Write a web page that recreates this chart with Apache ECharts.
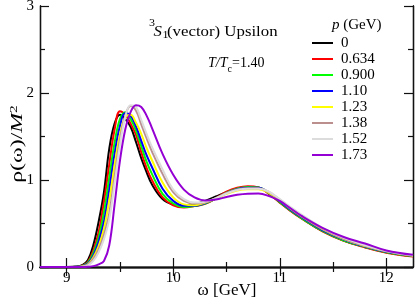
<!DOCTYPE html>
<html><head><meta charset="utf-8">
<script src="https://cdn.jsdelivr.net/npm/echarts@6/dist/echarts.min.js"></script>
<style>html,body{margin:0;padding:0;background:#fff}#c{width:415px;height:303px}</style>
</head><body><div id="c"></div>
<script>
// omega grid [GeV]
const omega = [8.75, 9.0, 9.1, 9.15, 9.2, 9.25, 9.3, 9.35, 9.4, 9.45, 9.5, 9.55, 9.6, 9.65, 9.7, 9.75, 9.8, 9.9, 10.0, 10.1, 10.2, 10.3, 10.4, 10.5, 10.6, 10.7, 10.8, 10.9, 11.0, 11.1, 11.2, 11.4, 11.6, 11.8, 12.0, 12.25];
const momenta = ['0', '0.634', '0.900', '1.10', '1.23', '1.38', '1.52', '1.73'];
const rho_p0    = [0, 0, 0.005, 0.025, 0.08, 0.25, 0.52, 0.86, 1.36, 1.65, 1.75, 1.70, 1.61, 1.44, 1.25, 1.09, 0.95, 0.78, 0.715, 0.70, 0.72, 0.76, 0.81, 0.86, 0.90, 0.92, 0.915, 0.84, 0.745, 0.65, 0.565, 0.415, 0.305, 0.23, 0.17, 0.125];
const rho_p0634 = [0, 0, 0.003, 0.018, 0.06, 0.19, 0.40, 0.75, 1.18, 1.58, 1.79, 1.75, 1.65, 1.52, 1.32, 1.14, 1.00, 0.80, 0.71, 0.685, 0.70, 0.725, 0.79, 0.865, 0.91, 0.928, 0.915, 0.84, 0.74, 0.645, 0.56, 0.41, 0.30, 0.225, 0.165, 0.12];
const rho_p0900 = [0, 0, 0.002, 0.014, 0.05, 0.16, 0.34, 0.63, 1.03, 1.43, 1.70, 1.78, 1.70, 1.57, 1.39, 1.21, 1.07, 0.84, 0.73, 0.69, 0.70, 0.73, 0.785, 0.855, 0.90, 0.92, 0.915, 0.845, 0.745, 0.65, 0.565, 0.415, 0.305, 0.23, 0.17, 0.125];
const rho_p110  = [0, 0, 0.002, 0.011, 0.04, 0.13, 0.29, 0.52, 0.89, 1.30, 1.62, 1.77, 1.74, 1.62, 1.45, 1.285, 1.15, 0.90, 0.76, 0.705, 0.705, 0.735, 0.785, 0.85, 0.895, 0.91, 0.91, 0.85, 0.755, 0.66, 0.575, 0.425, 0.315, 0.235, 0.175, 0.128];
const rho_p123  = [0, 0, 0.001, 0.008, 0.032, 0.11, 0.24, 0.44, 0.77, 1.17, 1.52, 1.72, 1.75, 1.66, 1.53, 1.37, 1.23, 0.97, 0.80, 0.72, 0.71, 0.74, 0.785, 0.84, 0.88, 0.895, 0.895, 0.85, 0.765, 0.67, 0.585, 0.435, 0.32, 0.24, 0.18, 0.13];
const rho_p138  = [0, 0, 0, 0.006, 0.025, 0.09, 0.20, 0.37, 0.62, 1.04, 1.46, 1.74, 1.85, 1.80, 1.64, 1.48, 1.33, 1.07, 0.86, 0.76, 0.73, 0.745, 0.79, 0.85, 0.89, 0.905, 0.905, 0.86, 0.775, 0.68, 0.595, 0.44, 0.325, 0.245, 0.182, 0.132];
const rho_p152  = [0, 0, 0, 0.004, 0.02, 0.07, 0.17, 0.32, 0.55, 0.96, 1.40, 1.72, 1.86, 1.84, 1.69, 1.53, 1.38, 1.12, 0.89, 0.78, 0.74, 0.75, 0.79, 0.845, 0.885, 0.90, 0.90, 0.865, 0.78, 0.69, 0.605, 0.45, 0.335, 0.25, 0.185, 0.135];
const rho_p173  = [0, 0, 0, 0, 0.003, 0.01, 0.03, 0.07, 0.25, 0.72, 1.22, 1.58, 1.78, 1.86, 1.84, 1.74, 1.60, 1.30, 1.06, 0.89, 0.80, 0.765, 0.775, 0.805, 0.83, 0.843, 0.845, 0.815, 0.76, 0.675, 0.59, 0.45, 0.345, 0.27, 0.19, 0.14];
const xMajorTicks = [9, 10, 11, 12];
const xMinorTicks = [9.5, 10.5, 11.5];
const yMajorTicks = [0, 1, 2, 3];
const yMinorTicks = [0.5, 1.5, 2.5];

const curves = [rho_p0, rho_p0634, rho_p0900, rho_p110, rho_p123, rho_p138, rho_p152, rho_p173];
const colors = ['#000000', '#ff0000', '#00ff00', '#0000ff', '#ffff00', '#bc8f8f', '#dcdcdc', '#9400d3'];
const FF = '"Liberation Serif", "DejaVu Serif", serif';
const frame = { show: true, lineStyle: { color: '#111', width: 1.3 } };

function xAx(pos, ticks, len, labels) {
  return {
    type: 'value', min: 8.75, max: 12.25, position: pos,
    axisLine: frame,
    axisTick: { show: true, inside: true, length: len, customValues: ticks, lineStyle: { color: '#111', width: 1.2 } },
    axisLabel: labels ? { show: true, customValues: xMajorTicks, fontFamily: FF, fontSize: 15, color: '#000', margin: 4 } : { show: false },
    splitLine: { show: false }
  };
}
function yAx(pos, ticks, len, labels) {
  return {
    type: 'value', min: 0, max: 3, position: pos,
    axisLine: frame,
    axisTick: { show: true, inside: true, length: len, customValues: ticks, lineStyle: { color: '#111', width: 1.2 } },
    axisLabel: labels ? { show: true, customValues: yMajorTicks, fontFamily: FF, fontSize: 15, color: '#000', margin: 6 } : { show: false },
    splitLine: { show: false }
  };
}
function txt(x, y, s, size, italic, align, sx) {
  return { type: 'text', x: x, y: y, scaleX: sx || 1.2, style: {
    text: s, fontFamily: FF, fontSize: size, fontStyle: italic ? 'italic' : 'normal',
    fill: '#000', textAlign: align || 'left', verticalAlign: 'middle' } };
}

const chart = echarts.init(document.getElementById('c'), null, { renderer: 'canvas' });

chart.setOption({
  animation: false,
  backgroundColor: '#fff',
  textStyle: { fontFamily: FF },
  grid: { left: 40, right: 2, top: 6, bottom: 36, containLabel: false, outerBoundsMode: 'none' },
  xAxis: [xAx('bottom', xMajorTicks, 9, true), xAx('bottom', xMinorTicks, 5, false), xAx('top', xMajorTicks, 9, false), xAx('top', xMinorTicks, 5, false)],
  yAxis: [yAx('left', yMajorTicks, 9, true), yAx('left', yMinorTicks, 5, false), yAx('right', yMajorTicks, 9, false), yAx('right', yMinorTicks, 5, false)],
  legend: {
    data: momenta, orient: 'vertical', left: 312, top: 35, padding: 0,
    icon: 'rect', itemWidth: 21, itemHeight: 2, itemGap: 0, selectedMode: false,
    textStyle: { fontFamily: FF, fontSize: 15, color: '#000', lineHeight: 16, padding: [0, 0, 0, 3] }
  },
  graphic: [
    // x-axis title
    txt(227, 291, 'ω [GeV]', 17, false, 'center', 1),
    // y-axis title
    { type: 'text', x: 18, y: 144, rotation: Math.PI / 2, scaleX: 1.4, style: {
      text: '{r|ρ(ω)/}{i|M}{s|2}', textAlign: 'center', verticalAlign: 'middle',
      rich: {
        r: { fontFamily: FF, fontSize: 17, fill: '#000', lineHeight: 18 },
        i: { fontFamily: FF, fontSize: 17, fontStyle: 'italic', fill: '#000', lineHeight: 18 },
        s: { fontFamily: FF, fontSize: 11, fill: '#000', verticalAlign: 'top' }
      } } },
    // legend title
    { type: 'text', x: 332, y: 25, style: {
      text: '{i|p}{r| (GeV)}', verticalAlign: 'middle', textAlign: 'left',
      rich: { i: { fontFamily: FF, fontSize: 15, fontStyle: 'italic', fill: '#000' }, r: { fontFamily: FF, fontSize: 15, fill: '#000' } }
    } },
    // 3S1(vector) Upsilon
    txt(149, 23.8, '3', 10, false),
    txt(153.5, 32.5, 'S', 14, true),
    txt(162.5, 35.8, '1', 10, false),
    txt(167, 32.5, '(vector) Upsilon', 14, false),
    // T/Tc = 1.40
    txt(208, 63.3, 'T/T', 14, true, 'left', 1),
    txt(227.5, 69.6, 'c', 10, false, 'left', 1),
    txt(232, 63.3, '=1.40', 14, false, 'left', 1)
  ],
  series: curves.map((arr, k) => ({
    name: momenta[k], type: 'line', xAxisIndex: 0, yAxisIndex: 0,
    data: omega.map((w, i) => [w, arr[i]]),
    symbol: 'none', showSymbol: false, smooth: 0.4,
    lineStyle: { color: colors[k], width: 2 }, itemStyle: { color: colors[k] },
    z: 2 + k
  }))
});
</script></body></html>
